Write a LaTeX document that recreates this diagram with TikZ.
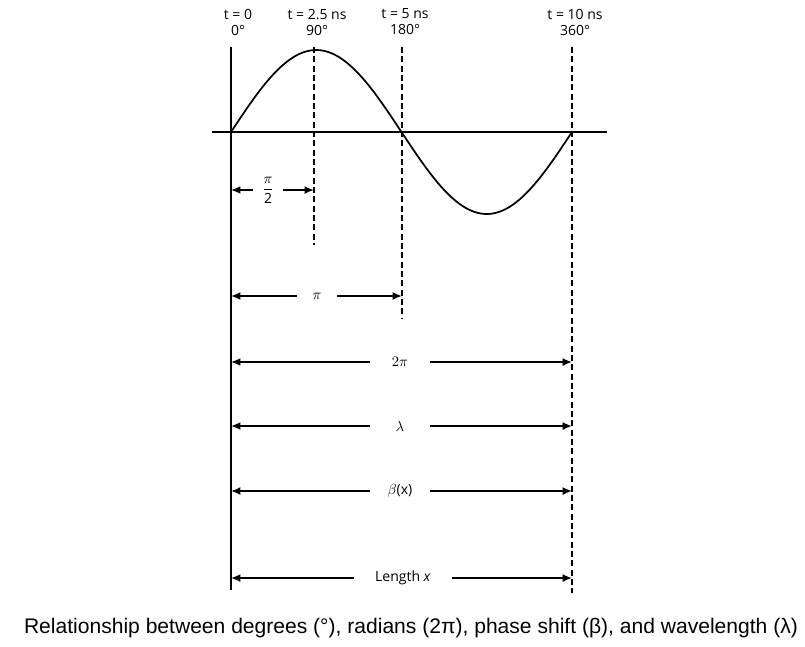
\documentclass[tikz,border=0pt]{standalone}
\usepackage{amsmath}
\usepackage{fontspec}
\setmainfont{Open Sans}
\newfontfamily\capfont{Liberation Sans}
\usetikzlibrary{positioning,arrows.meta}

\tikzset{
  wave line/.style={line width=1.3pt},
  mark line/.style={line width=1.3pt, dash pattern=on 4.5pt off 2.5pt},
  dim line/.style={line width=1.3pt, -{Latex[length=7pt,width=6pt]}},
  tick label/.style={font=\fontsize{10.5}{12}\selectfont, align=center, inner sep=0pt},
  dim label/.style={font=\fontsize{10.5}{11}\selectfont, inner sep=0pt, minimum height=10pt},
}

\begin{document}
\begin{tikzpicture}[x=0.75pt,y=-0.75pt]
  \useasboundingbox (0,0) rectangle (805,646);

  % time / phase marks
  \node[tick label] (t0)   at (238,22) {t = 0\\0°};
  \node[tick label] (t90)  at (317,22) {t = 2.5 ns\\90°};
  \node[tick label] (t180) at (405,22) {t = 5 ns\\180°};
  \node[tick label] (t360) at (575,22) {t = 10 ns\\360°};

  \coordinate (zeroTop)  at (231,47);
  \coordinate (zeroBot)  at (231,590);
  \coordinate (q90Top)   at (314,47);
  \coordinate (q90Bot)   at (314,245);
  \coordinate (q180Top)  at (402,47);
  \coordinate (q180Bot)  at (402,318);
  \coordinate (q360Top)  at (572,47);
  \coordinate (q360Bot)  at (572,593);
  \coordinate (axisL)    at (212,132);
  \coordinate (axisR)    at (607,132);

  \draw[wave line] (zeroTop) -- (zeroBot);
  \draw[mark line] (q90Top) -- (q90Bot);
  \draw[mark line] (q180Top) -- (q180Bot);
  \draw[mark line] (q360Top) -- (q360Bot);
  \draw[wave line] (axisL) -- (axisR);

  % one period of the wave
  \draw[wave line] plot[smooth, domain=0:360, samples=61]
    ({231+\x/360*341},{132-82*sin(\x)});

  % spans
  \node[dim label, minimum width=29*0.75pt] (halfpi) at (268,190) {$\dfrac{\pi}{\text{2}}$};
  \coordinate (halfpiL) at (231,190);
  \coordinate (halfpiR) at (314,190);
  \draw[dim line] (halfpi.west) -- (halfpiL);
  \draw[dim line] (halfpi.east) -- (halfpiR);

  \node[dim label, minimum width=40*0.75pt] (onepi) at (317,296) {$\pi$};
  \coordinate (onepiL) at (231,296);
  \coordinate (onepiR) at (402,296);
  \draw[dim line] (onepi.west) -- (onepiL);
  \draw[dim line] (onepi.east) -- (onepiR);

  \node[dim label, minimum width=60*0.75pt] (twopi) at (400,362) {$2\pi$};
  \coordinate (twopiL) at (231,362);
  \coordinate (twopiR) at (572,362);
  \draw[dim line] (twopi.west) -- (twopiL);
  \draw[dim line] (twopi.east) -- (twopiR);

  \node[dim label, minimum width=60*0.75pt] (lambda) at (400,426) {$\lambda$};
  \coordinate (lambdaL) at (231,426);
  \coordinate (lambdaR) at (572,426);
  \draw[dim line] (lambda.west) -- (lambdaL);
  \draw[dim line] (lambda.east) -- (lambdaR);

  \node[dim label, minimum width=60*0.75pt] (beta) at (400,491) {$\beta$(x)};
  \coordinate (betaL) at (231,491);
  \coordinate (betaR) at (572,491);
  \draw[dim line] (beta.west) -- (betaL);
  \draw[dim line] (beta.east) -- (betaR);

  \node[dim label, minimum width=97*0.75pt] (length) at (403,578) {Length \textit{x}};
  \coordinate (lengthL) at (231,578);
  \coordinate (lengthR) at (572,578);
  \draw[dim line] (length.west) -- (lengthL);
  \draw[dim line] (length.east) -- (lengthR);

  \node[font=\capfont\fontsize{15.8}{18}\selectfont, inner sep=0pt] (caption) at (411,628)
    {Relationship between degrees (°), radians (2π), phase shift (β), and wavelength (λ)};
\end{tikzpicture}
\end{document}
